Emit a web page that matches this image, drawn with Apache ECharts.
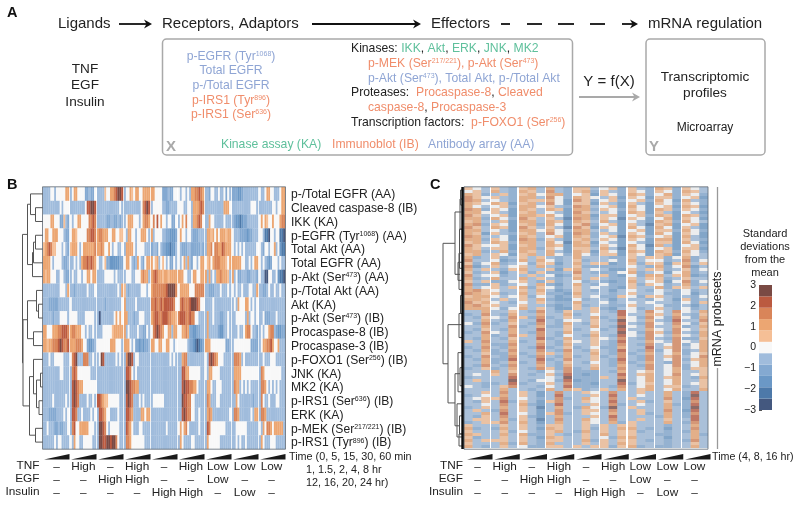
<!DOCTYPE html>
<html><head><meta charset="utf-8">
<style>html,body{margin:0;background:#fff}#c{width:800px;height:505px;filter:blur(0.4px)}</style>
<script src="https://cdn.jsdelivr.net/npm/echarts@6/dist/echarts.min.js"></script>
</head><body><div id="c"></div>
<script>
// Level codes: e d c b a = blue (darkest to lightest), 0 = white, 1..5 = orange to brown
const levelValues = {e:-2.73,d:-2.18,c:-1.64,b:-1.09,a:-0.55,'0':0,'1':0.55,'2':1.09,'3':1.64,'4':2.18,'5':2.73};
const levelColors = ['#44587f','#4d79a9','#6b98c6','#84a9d1','#a0bcdc','#f8f8f8','#f5bf96','#eca672','#d98559','#bb5a40','#7a4a44'];

const proteinLabels = ['p-/Total EGFR (AA)','Cleaved caspase-8 (IB)','IKK (KA)','p-EGFR (Tyr{s|1068}) (AA)','Total Akt (AA)','Total EGFR (AA)','p-Akt (Ser{s|473}) (AA)','p-/Total Akt (AA)','Akt (KA)','p-Akt (Ser{s|473}) (IB)','Procaspase-8 (IB)','Procaspase-3 (IB)','p-FOXO1 (Ser{s|256}) (IB)','JNK (KA)','MK2 (KA)','p-IRS1 (Ser{s|636}) (IB)','ERK (KA)','p-MEK (Ser{s|217/221}) (IB)','p-IRS1 (Tyr{s|896}) (IB)'];

const proteinRows = [
'aaaa00a0000022 a0220000bbabb0 aaaa1002234554 a0021022002222 220000bbbabb00 0a00a0a2233432 aab00aa0aa0b0a bbbccbaaaaaaaa 0aa02200aaa022',
'aaaaaaaaa0a000 aaaaaaaa044554 aaaaaaaaaaaa0a aaaaaaaaa03454 a00000aabbaaaa 000aa00a222343 aaaaaaaaaa2220 aaaaaaaaaa000a aaaaaaa00a0022',
'000022000bb1ab 0a002200003343 aaaaabbaabbaba a0222000a02332 03040200a00bb0 a020300a223430 aa200aaaaa0aaa abccdcbbaaaaaa 02021002000233',
'02200222000abb 02210000033443 23322200220011 0a2200a002220a 2a0000aabbcccb 0200a00abbbaaa a2212020222122 0aaabbbbcbbaaa 00adde00a00dde',
'1234311000a0ab 12220a02222223 22320020a00aa0 a22220a0000aaa baab0abbccdcca 0abbbaabbbbbab a2230332243222 0a0a0a0aaaaaa0 0ab00a002a0cdd',
'22220a0000abba aa0a0a23343432 0aa01bbcccccbb 0220aba20ab022 2012a010a0bb0a 0a02a2ab00a022 01202333222102 2222200aa0a022 0a0abcb000a0aa',
'2122000aa00abb a0aa00a0022022 aaaa00000a0aaa a000aa0002322a 23432212212222 22200aa0220022 2a2a0a2232221a 2a0bbaaabbaaab 0aaee00aa0cdde',
'aaaaaaaaa000a2 aabaaaaaa0aaa0 aaaaaaaaaaa0a2 1abaaaaaa000a0 23333333455553 02222200033333 aabbbaaa0aaa0a 0a0aa0aaa00aa2 aabba0aa0aa0aa',
'aaabbbbbaaaaaa 0aaaaaaaaaaaaa aaaabaaaaaaaa0 2aaaaa0aaaaaaa 33433434444430 03433345554300 aaaa0aaaaaaaaa a0a2000220a0a0 aaaaaaaaaaaaaa',
'aaaaabaaa0000a 0000aaaa00000a aeaaaaaaa02020 22aaabaa000aaa 23443344433221 34443343300aaa a2aa0aaabbaa0a aa00000a2a00a0 aa0bbbaaa0aaaa',
'22000222334443 23322200a0aa0a aaa00000122222 2a0aaaa0aabb0a 03454320022a22 002232bbccbbaa a2aaaaabccaa0a aaa0aa02330aab a0a00233abccbb',
'22122333454334 222333200bccba 0000000222000a 2220a0bbcbcbba 220022002200a0 00000abbcdedcb 22200000000bba a000000000bbbb a0223342002aaa',
'aaa0aa00000aaa 0345aaa333aa0a a054aaaaaa0a0a a3554a00aaaaaa aaaaaaaaaa0a0a aa233aaaaaaaaa 0a45432000aaaa a3332a0aaaaaaa aa0aaa000aaaaa',
'aaaaaaaaa00aaa a3430000000aaa aaaaaaaaaaaaaa a4430a0aaaaaaa aaaaaaaaaaaaaa aa4422000000aa 0a220000aaaaaa a2222000000000 a32000000000aa',
'aaaaaaaaaaaaaa a4543220000000 aaaaaaaaaaaaaa a5543322aaaaaa aaaaaaaaaaaaaa aa454433220aaa a220aa000aaaaa a322a0a0a0aaaa a3320a0a0a0aaa',
'aaaaa0aaaaaa0a a4543aaaa0aa0a 443211000000aa a4543aaa0a0aaa a000000aaaaaaa aa5443300aaaaa a32aaa00aaaaaa aa20aaaaaaabaa a30aa0aaa00aaa',
'aaabbbbaaaa0a0 a443aa0aaaa0a0 a443200aaaa0aa a4432aaaa22022 aaaaaaaaaaaaaa aa4543300aa0aa a232aaaaaaaaa0 a332aaaaaa0a22 a332aaaaaaaaaa',
'aa0aaabbabbaa0 a340022222000a a55430a00000aa a4320aaa00aaaa aaaaaaaa0aaaaa 020230aaaaa0aa a4300000000aaa aa000000aaaaaa 0a20332022222a',
'aaaaaa0a00aaaa 0a200aa00000aa a55445545530aa a3320000000aaa aaaaaaaaaaaaaa a20aaaa00aaaaa a2000000aaaaaa aa0a0aa0aaaaaa a20aaa000aaaaa'
];

const probesetRows = [
'10a 1ab 12a 2ab 11a 01b 1ab 21b 10a',
'01a 2ab 21a 3ab 12b 1ab 10b 10b 21a',
'21b a1b 120 22b 01c 10b 21b 02b 10b',
'310 1ab 22a 30b 210 a1c 10c 11b 01c',
'32a 0ab 211 20c 31b 01b 01b 20c 2ab',
'210 21c 12a 30c 11c 1ac 1ac 10b 10b',
'20a 01b 220 1ab 32a 01c 20c 01c 21c',
'32b 10c 21a 21c 22b 10b 10c 21b 10b',
'220 1ac 12a 0ac 31a a0c 21c 1ac 0ac',
'31a 01c 221 20c 22c 11c 01b 21c 21b',
'22b 20b 31a 1ad 32b 10d 10c 02c 10c',
'12a a1c 22a 21c 21a 2ac 0ac 21b 20a',
'23b 10c 12b 20c 13b 01c 1ad 12c 01c',
'31a 21c 31a 1ad 31c 10c 20c 20c 1ac',
'22a 0ac 220 20b 22a a0c 01c 11b 20b',
'21c 1ab 12a 30c 32b 1ac 10c 20c 10c',
'32a a0c 21a 01c 21b 01d 21b 01c 2ac',
'22b 10c 32b 1ac 12a 10c 10c 22c 1ab',
'12a 21b 22a 20d 21c 0ac 0ac 11c 20c',
'310 01c 12a 21c 22b 10c 20d 2ac 01b',
'21a 11c 22b 10c 11a 2ad 10c 01c 11c',
'22b a2b 21a 2ac 21c 10c 21c 21b 20b',
'12a 10c 12a 20b 20b 11c 10c 12c 10a',
'2ba 1ba 1a1 aba 2aa abb 1a1 1b0 2ba',
'3aa 0cb 2a2 0ba 1ba a0b 2a0 0ba 3b0',
'1b0 2ba 0b1 1ca 2a1 1cb 1b1 1c1 2a1',
'3ca 1a0 1a2 aba 1bb bbb 0ab 2b0 3ca',
'2a1 ab1 2aa 1c1 2a0 acc 1a1 1ba 1b0',
'1ba 1ca 1b1 bba 3ab bb0 2ba 0c0 2ba',
'3a0 0ba a1a 0cb 1aa 1bc 0b2 2a1 2cb',
'2ba 2aa 2a1 aba 2a1 abb 1a1 1ba 1aa',
'1a1 bb0 1ab 1ba 0ba bcb 2a0 1c0 3b0',
'3bb 1ba 0a2 bca 2ab 0bb 1b1 0ba 2ba',
'2a0 1a1 2b1 0ba 1a0 abc 1aa 2b1 1a1',
'231 0aa 1a2 acb 1ab aca 0ab 0ab 0ba',
'321 1ba 2a1 bbc 2aa aba 1aa 0bb 0ca',
'122 0a0 1b0 acb 1a0 bb1 0b1 1ab ab0',
'221 a1a 1a2 bcc 0ba aca aab 0ac 1ba',
'312 0ab 0a1 abb 2aa 0ba 0a0 aab 0b1',
'231 1aa 1aa bcb 1ba abb 1aa 0bb aca',
'222 0b0 2a1 acc 1a1 bca 0ba 1ab 0ba',
'aa2 aa1 ab3 ab1 aa1 ab4 0a3 0a3 0a2',
'ba3 ab2 aa2 aa2 ba0 aa4 aa2 1a2 ab1',
'ab1 0a3 1b3 ba1 aa2 ba3 0b3 0b3 0b2',
'aa2 ab2 aa4 ab0 0a1 ab5 0a2 ab4 aa3',
'0b3 ba1 ab3 ab2 ab1 aa4 ab3 0a3 0b1',
'aa2 aa3 ba2 bb1 aa2 ab5 0a3 aa2 ba2',
'ab1 ab2 aa4 aa1 ba0 ba4 aa2 0a3 0a1',
'ba3 0a2 ab3 ab2 aa1 aa5 0b3 1b3 ab2',
'aa2 ba3 1a3 ab0 ab2 ab4 0a3 0a2 0a2',
'ab2 ab1 aa4 ba2 aa1 0a3 ab3 ab3 bb1',
'1a3 aa2 ba2 ab1 0a1 ab4 aa2 0a3 0a2',
'aa2 bb3 aa3 ab2 aa1 ab3 ab3 a03 b02',
'ba3 ab2 ab4 ba1 ba0 bb2 aa4 a13 a02',
'ab2 ba3 aa3 ab3 ab1 ab4 ab3 b03 ba2',
'aa1 bb2 ba2 1a2 aa2 ab3 ba2 a02 b01',
'ba3 ab3 ab3 ab2 ba1 ba3 ab3 a13 a03',
'ab2 bb4 aa4 ba3 aa1 ab4 ab3 a03 b12',
'aa2 ba2 ba3 ab1 ab0 ab3 ba2 ab3 a02',
'ab3 ab3 aa2 ab2 aa1 ab2 ab3 a03 b02',
'ba1 ba2 ab3 1b3 ba2 aa3 aa3 a02 b11',
'aaa 2a1 aab 0a3 bbb ab2 a01 a02 aa1',
'a0a 1a3 aba 1b4 bcb aa4 a12 a03 a01',
'baa aa4 aaa 0a5 bbb 1a3 a02 a12 ab2',
'a1a aa5 ab0 0b4 cbb aa5 a02 a02 aa1',
'aab ba4 baa 1a3 bbc aa4 b01 a02 a01',
'0ab a13 aab 0a4 bbb ab3 a02 a11 ba1',
'aaa a2a aba 2a2 1ba 1a2 a12 a02 aa2',
'aa1 a3a 1ac a3a a10 a3a a1a a2a b4a',
'ba0 a2a 1ac a4a aa1 a4a a0a a2a b5a',
'a01 13a 0ab a3b a20 a3a 1aa a3a c4a',
'ab1 a4b 1ac 13a a10 a4a a1b a1a b3a',
'aa0 a3a 2bc a4a aa1 a3b a0a a2b b4a',
'ba1 a2a 1ad a2a b20 b5a 1aa a2a b5a',
'a1a b3a 1ac a3a a11 a3a a1a a3a c4a',
'aa2 a4a 0ac 13b a10 a2a a1b a2a b3a',
'ab1 a3a 1bc a2a aa1 a4a aaa b2a b4a',
'a11 a2b 1ad a3a a20 a3a a1a a1a a4a',
'ba1 13a 2ac a2a a10 a2b 1aa a2a b3a',
'1aa a1a 1ab 11a a1a 1a1 1aa aba a2a',
'2ba b2a 1ac 21a a1b 1a2 2ab aca a3a',
'1aa a1b 0ab 12a b2a 1a1 1ba aba b2a',
'21a a2a 2bb 1ab a1a 2a1 1aa bba a2b',
'1ba a1a 1ac 21a a1a 0b2 2aa aca a2a',
'2a1 11a 1ab 11a a2b 1a1 1ab aba b3a',
'1aa a2b 2ab 2aa a1a 1a2 1aa aba a1a',
'2ab a1a 0bb 11a 1a1 1b1 2ba bba a2a'
];

const timeNotes = ['Time (0, 5, 15, 30, 60 min','1, 1.5, 2, 4, 8 hr','12, 16, 20, 24 hr)'];
const tnfDose = ['–','High','–','High','–','High','Low','Low','Low'];
const egfDose = ['–','–','High','High','–','–','Low','–','–'];
const insulinDose = ['–','–','–','–','High','High','–','Low','–'];

// Dendrogram of panel B: [left node, right node, merge height]; leaves are rows 0-18
const proteinMerges = [[1,2,7.5],[0,19,12.5],[3,4,7.5],[21,5,9.5],[22,6,10.5],[20,23,15.5],[8,9,4.5],[7,25,6.5],[10,11,9.5],[26,27,15.5],[13,14,2.5],[15,16,4],[29,30,6.5],[12,31,9.5],[17,18,7.5],[32,33,13.5],[28,34,20],[24,35,20.5]];
// Dendrogram of panel C: [height, row 1, row 2, child height 1, child height 2]
const probesetBrackets = [[21,18.7,58.7,9,16],[9,8.3,29,2.5,4],[16,45.7,71.7,2.5,9],[9,62,79.3,4,4],[5,22,34,2,2],[6,25,31,2,2],[4,4,14,2,2],[4.5,14,27,2,2],[5,42,50,2,2],[6,55,68,2,2],[4,60,66,2,2],[7,72,83,2,2],[4.5,76,82,2,2],[5,82,86,2,2],[3.5,36,42,2,2],[3.5,1,6,2,2]];

const FONT = '"Liberation Sans", Arial, sans-serif';
const INK = '#222';
const BLUE = '#8fa5d4', ORANGE = '#f08d6b', GREEN = '#5fc09c', GREY = '#a9a9a9';
const decode = s => s.split(' ').map(p => p.split('').map(c => levelValues[c]));

const grids=[], xAxes=[], yAxes=[], series=[], heatIdx=[];
const addGrid=(g,x,y)=>{grids.push(g);x.gridIndex=grids.length-1;y.gridIndex=grids.length-1;xAxes.push(x);yAxes.push(y);return grids.length-1;};
const range=n=>Array.from({length:n},(_,i)=>String(i));

function cellItem(overlap,opacity){return function(params,api){
  const c=api.coord([api.value(0),api.value(1)]),s=api.size([1,1]);
  return {type:'rect',shape:{x:c[0]-s[0]/2,y:c[1]-s[1]/2,width:s[0]+overlap,height:s[1]+overlap},
    style:{fill:api.visual('color'),opacity}};
};}
function addHeat(rows,nCols,left,pitch,w,top,h,yOpt,overlap,opacity,bg){
  const dec=rows.map(decode);
  for(let p=0;p<9;p++){
    const last=p===8;
    const y={type:'category',inverse:true,data:range(rows.length),axisLine:{show:false},axisTick:{show:false},axisLabel:{show:false},splitLine:{show:false}};
    if(last&&yOpt)Object.assign(y,yOpt);
    const g={left:Math.round(left+p*pitch),top,width:w,height:h};
    if(bg)Object.assign(g,{show:true,backgroundColor:bg,borderWidth:0});
    const gi=addGrid(g,{type:'category',data:range(nCols),show:false},y);
    const data=[];
    dec.forEach((r,ri)=>(r[p]||[]).slice(0,nCols).forEach((v,ci)=>data.push([ci,ri,v])));
    heatIdx.push(series.length);
    series.push({type:'custom',xAxisIndex:gi,yAxisIndex:gi,data,silent:true,encode:{x:0,y:1},renderItem:cellItem(overlap,opacity)});
  }
}
addHeat(proteinRows,14,43,27,26,187,262,{
  data:proteinLabels,position:'right',
  axisLabel:{show:true,interval:0,margin:6,padding:[2,0,0,0],color:INK,fontFamily:FONT,fontSize:12.1,
    rich:{s:{fontFamily:FONT,fontSize:7,color:INK,verticalAlign:'top',lineHeight:7}}}
},0.2,1,null);
addHeat(probesetRows,3,464,27.25,26,187,261,null,0,0.75,'#c6cacd');

function bracketItem(color,lw){return function(params,api){
  const p=(a,b)=>api.coord([a,b]);
  const h=api.value(0),y1=api.value(1),y2=api.value(2),h1=api.value(3),h2=api.value(4);
  return {type:'polyline',shape:{points:[p(h1,y1),p(h,y1),p(h,y2),p(h2,y2)]},style:{fill:null,stroke:color,lineWidth:lw}};
};}
// dendrogram B: positions from merges
const pos={};proteinLabels.forEach((_,i)=>pos[i]={y:i+0.5,h:0});
const protBrackets=proteinMerges.map((m,i)=>{
  const a=pos[m[0]],b=pos[m[1]];
  pos[19+i]={y:(a.y+b.y)/2,h:m[2]};
  return [m[2],a.y,b.y,a.h,b.h];
});
const hiddenV=(min,max,inv)=>({type:'value',min,max,inverse:inv,show:false});
let gi=addGrid({left:1,top:187,width:42,height:262},hiddenV(0,42,true),hiddenV(0,19,true));
series.push({type:'custom',xAxisIndex:gi,yAxisIndex:gi,renderItem:bracketItem('#555',1),data:protBrackets,silent:true,clip:false});
gi=addGrid({left:424,top:187,width:40,height:262},hiddenV(0,40,true),hiddenV(0,87,true));
series.push({type:'custom',xAxisIndex:gi,yAxisIndex:gi,renderItem:bracketItem('#555',1),data:probesetBrackets,silent:true,clip:false});
series.push({type:'custom',xAxisIndex:gi,yAxisIndex:gi,renderItem:bracketItem('#0b0b0b',2.8),data:[[1.3,0,87,1.3,1.3]],silent:true,clip:false});

// treatment tables
const doseLabels=i=>tnfDose[i]+'\n'+egfDose[i]+'\n'+insulinDose[i];
[[43,242],[464,244]].forEach(([l,w])=>{
  addGrid({left:l,top:187,width:w,height:262},
   {type:'category',data:tnfDose.map((_,i)=>doseLabels(i)),position:'bottom',axisLine:{show:false},axisTick:{show:false},
    axisLabel:{interval:0,margin:11,color:INK,fontFamily:FONT,fontSize:11.8,lineHeight:13}},
   {type:'value',show:false});
});

// colour bar
gi=addGrid({left:759,top:285,width:13,height:125},
  {type:'value',min:0,max:1,show:false},
  {type:'value',min:-3,max:3,interval:1,position:'left',axisLine:{show:false},splitLine:{show:false},
   axisTick:{inside:true,length:3,lineStyle:{color:'#555'}},
   axisLabel:{margin:3,color:INK,fontFamily:FONT,fontSize:10.5,formatter:v=>String(v).replace('-','−')}});
const step=6/11;
series.push({type:'custom',xAxisIndex:gi,yAxisIndex:gi,silent:true,z:1,
  data:levelColors.map((c,i)=>[0,-3+i*step,1,-3+(i+1)*step,i]),
  renderItem:(params,api)=>{
    const a=api.coord([api.value(0),api.value(1)]),b=api.coord([api.value(2),api.value(3)]);
    return {type:'rect',shape:{x:a[0],y:b[1],width:b[0]-a[0],height:a[1]-b[1]},style:{fill:levelColors[api.value(4)]}};
  }});

// ------- graphics
const gr=[];
const tok=(c,fs,sup)=>{const t={fill:c,fontSize:fs,fontFamily:FONT};if(sup)t.verticalAlign='top';return t;};
const richStyles=fs=>({g:tok(GREEN,fs),o:tok(ORANGE,fs),b:tok(BLUE,fs),k:tok(INK,fs),os:tok(ORANGE,7,true),bs:tok(BLUE,7,true)});
function T(x,y,text,o={}){
  const fs=o.size||12.2;
  gr.push({type:'text',silent:true,z:10,style:{x,y,text,fill:o.fill||INK,align:o.align||'left',verticalAlign:'middle',
    font:(o.bold?'bold ':'')+fs+'px '+FONT,rich:o.rich?richStyles(fs):undefined}});
}
function line(x1,x2,y,c,w){gr.push({type:'line',silent:true,z:10,shape:{x1,y1:y,x2,y2:y},style:{stroke:c,lineWidth:w}});}
function arrow(x1,x2,y,c,w){line(x1,x2-3,y,c,w);gr.push({type:'polygon',silent:true,z:10,shape:{points:[[x2,y],[x2-8,y-4.5],[x2-5.5,y],[x2-8,y+4.5]]},style:{fill:c}});}
function box(x,y,w,h){gr.push({type:'rect',silent:true,z:10,shape:{x,y,width:w,height:h,r:4},style:{fill:'none',stroke:GREY,lineWidth:1.5}});}

T(7,13,'A',{bold:true,size:14.5,fill:'#111'});
T(7,185,'B',{bold:true,size:14.5,fill:'#111'});
T(430,185,'C',{bold:true,size:14.5,fill:'#111'});
T(58,24,'Ligands',{size:15});
arrow(119,152,24,'#111',1.8);
T(162,24,'Receptors, Adaptors',{size:15});
arrow(312,421,24,'#111',1.8);
T(431,24,'Effectors',{size:15});
[[501,510],[527,542],[558,574],[590,605]].forEach(d=>line(d[0],d[1],24,'#111',1.8));
arrow(622,638,24,'#111',1.8);
T(648,24,'mRNA regulation',{size:15});
box(162.5,39,410,116);box(646,39,119,116);
T(85,69,'TNF',{size:13.6,align:'center'});T(85,85.5,'EGF',{size:13.6,align:'center'});T(85,102,'Insulin',{size:13.6,align:'center'});
T(231,57,'{b|p-EGFR (Tyr}{bs|1068}{b|)}',{rich:true,align:'center'});
T(231,71,'{b|Total EGFR}',{rich:true,align:'center'});
T(231,85.5,'{b|p-/Total EGFR}',{rich:true,align:'center'});
T(231,101,'{o|p-IRS1 (Tyr}{os|896}{o|)}',{rich:true,align:'center'});
T(231,115,'{o|p-IRS1 (Ser}{os|636}{o|)}',{rich:true,align:'center'});
T(351,49,'{k|Kinases: }{g|IKK}{k|, }{g|Akt}{k|, }{g|ERK}{k|, }{g|JNK}{k|, }{g|MK2}',{rich:true});
T(368,64,'{o|p-MEK (Ser}{os|217/221}{o|), p-Akt (Ser}{os|473}{o|)}',{rich:true});
T(368,78.5,'{b|p-Akt (Ser}{bs|473}{b|), Total Akt, p-/Total Akt}',{rich:true});
T(351,93,'{k|Proteases:  }{o|Procaspase-8}{k|, }{o|Cleaved}',{rich:true});
T(368,108,'{o|caspase-8}{k|, }{o|Procaspase-3}',{rich:true});
T(351,122.5,'{k|Transcription factors:  }{o|p-FOXO1 (Ser}{os|256}{o|)}',{rich:true});
T(221,145,'Kinase assay (KA)',{fill:GREEN});
T(332,145,'Immunoblot (IB)',{fill:ORANGE});
T(428,145,'Antibody array (AA)',{fill:BLUE});
T(166,146.5,'X',{bold:true,size:15,fill:GREY});
T(649,146.5,'Y',{bold:true,size:15,fill:GREY});
T(609,82,'Y = f(X)',{size:15,align:'center'});
arrow(579,640,97,GREY,2);
T(705,77,'Transcriptomic',{size:13.6,align:'center'});
T(705,93.5,'profiles',{size:13.6,align:'center'});
T(705,128,'Microarray',{size:12,align:'center'});
// dose row titles
[['TNF',466],['EGF',479],['Insulin',492]].forEach(r=>{T(39.5,r[1],r[0],{align:'right',size:11.8});T(463,r[1],r[0],{align:'right',size:11.8});});
T(289,457,timeNotes[0],{size:10.8});T(306,470,timeNotes[1],{size:10.8});T(306,483,timeNotes[2],{size:10.8});
T(712,457,'Time (4, 8, 16 hr)',{size:10.7});
['Standard','deviations','from the','mean'].forEach((s,i)=>T(765,234+i*13,s,{size:11,align:'center'}));
// time wedges
for(let p=0;p<9;p++){
  [[44,27],[467,27.25]].forEach(([l,pi])=>{
    const a=l+p*pi,b=a+25.5;
    gr.push({type:'polygon',silent:true,z:10,shape:{points:[[a,459.5],[b,454],[b,459.5]]},style:{fill:'#1a1a1a'}});
  });
}
// heatmap frames
[[42.5,243],[464,244]].forEach(([x,w])=>gr.push({type:'rect',silent:true,z:10,shape:{x,y:186.8,width:w,height:262.4},style:{fill:'none',stroke:'#5c6470',lineWidth:0.8}}));
// probeset side bar
gr.push({type:'line',silent:true,z:10,shape:{x1:717.5,y1:187,x2:717.5,y2:270},style:{stroke:'#999',lineWidth:1.3}});
gr.push({type:'line',silent:true,z:10,shape:{x1:717.5,y1:368,x2:717.5,y2:449},style:{stroke:'#999',lineWidth:1.3}});
gr.push({type:'text',silent:true,z:10,rotation:Math.PI/2,x:718,y:319,style:{x:0,y:0,text:'mRNA probesets',align:'center',verticalAlign:'middle',fill:INK,font:'12.5px '+FONT}});

const chart=echarts.init(document.getElementById('c'),null,{renderer:'canvas'});
chart.setOption({
  animation:false,backgroundColor:'#fff',tooltip:{show:false},
  grid:grids,xAxis:xAxes,yAxis:yAxes,series,
  visualMap:{type:'piecewise',show:false,dimension:2,seriesIndex:heatIdx,
    pieces:levelColors.map((c,i)=>({min:-3+i*6/11,max:-3+(i+1)*6/11,color:c}))},
  graphic:{elements:gr}
});
</script></body></html>
